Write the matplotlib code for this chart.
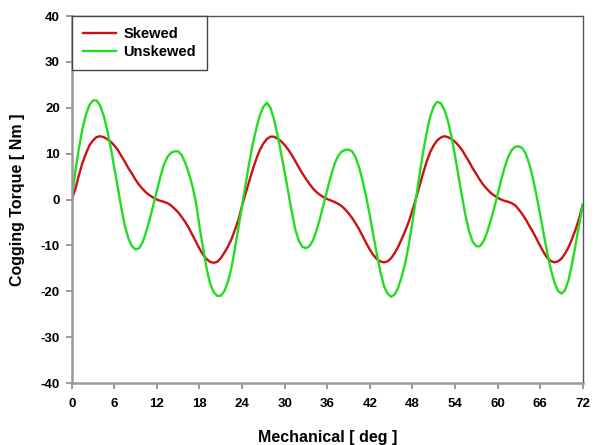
import numpy as np
import matplotlib
matplotlib.use('Agg')
import matplotlib.pyplot as plt

# mechanical angle (deg), one sample every half degree
angle = np.arange(0, 72.5, 0.5)

# cogging torque [Nm], one row per 6 deg
skewed = [
    0.0, 2.2, 5.2, 7.9, 10.0, 11.8, 12.9, 13.6, 13.8, 13.6, 13.2, 12.6,
    11.8, 10.8, 9.5, 8.2, 6.8, 5.6, 4.3, 3.2, 2.3, 1.5, 0.9, 0.4,
    0.0, -0.3, -0.5, -0.8, -1.3, -2.0, -2.8, -3.8, -4.9, -6.2, -7.7, -9.2,
    -10.7, -12.0, -13.0, -13.6, -13.8, -13.6, -12.8, -11.6, -10.3, -8.7, -6.6, -4.4,
    -1.4, 1.3, 3.9, 6.5, 8.8, 10.8, 12.2, 13.2, 13.7, 13.7, 13.3, 12.7,
    11.9, 10.9, 9.7, 8.4, 7.0, 5.7, 4.5, 3.4, 2.4, 1.6, 1.0, 0.5,
    0.1, -0.2, -0.5, -0.9, -1.4, -2.1, -3.0, -4.0, -5.2, -6.5, -8.0, -9.5,
    -10.9, -12.1, -13.0, -13.5, -13.7, -13.5, -12.8, -11.7, -10.3, -8.6, -6.8, -4.8,
    -2.4, 0.2, 2.9, 5.7, 8.2, 10.3, 11.8, 12.9, 13.5, 13.8, 13.6, 13.2,
    12.6, 11.8, 10.8, 9.5, 8.2, 6.8, 5.6, 4.3, 3.2, 2.3, 1.5, 0.9,
    0.4, 0.0, -0.3, -0.5, -0.8, -1.3, -2.2, -3.2, -4.4, -5.8, -7.1, -8.6,
    -10.1, -11.5, -12.7, -13.4, -13.7, -13.5, -12.9, -11.8, -10.4, -8.6, -6.5, -4.1,
    -1.2,
]
unskewed = [
    0.0, 6.0, 11.0, 15.3, 18.5, 20.6, 21.6, 21.6, 20.5, 18.3, 15.2, 11.3,
    7.0, 2.6, -1.9, -5.8, -8.5, -10.2, -10.9, -10.6, -9.3, -7.0, -4.3, -1.2,
    2.0, 5.0, 7.6, 9.3, 10.2, 10.5, 10.5, 9.7, 8.0, 5.8, 3.0, -0.6,
    -5.8, -10.5, -15.0, -18.3, -20.2, -21.0, -21.0, -20.0, -18.0, -15.0, -10.7, -6.0,
    -1.4, 3.3, 7.9, 12.0, 15.4, 18.3, 20.2, 21.1, 20.0, 17.5, 14.0, 10.1,
    6.0, 1.7, -2.6, -6.5, -9.0, -10.3, -10.6, -10.2, -8.9, -6.7, -4.0, -1.0,
    2.1, 5.0, 7.6, 9.4, 10.4, 10.8, 10.9, 10.5, 9.2, 7.0, 4.0, 0.5,
    -3.4, -7.8, -12.0, -15.8, -18.9, -20.5, -21.2, -20.7, -19.2, -16.8, -13.8, -9.8,
    -5.0, 0.2, 5.3, 10.2, 14.5, 18.0, 20.3, 21.3, 21.0, 19.6, 17.2, 13.8,
    9.6, 5.1, 0.6, -3.6, -7.0, -9.2, -10.2, -10.2, -9.2, -7.3, -4.8, -2.0,
    1.0, 4.2, 7.0, 9.3, 10.8, 11.5, 11.6, 11.2, 9.9, 7.6, 4.5, 0.8,
    -3.2, -7.5, -11.6, -15.2, -18.0, -19.9, -20.5, -19.8, -17.6, -14.0, -9.8, -5.4,
    -1.1,
]

plt.rcParams['font.family'] = ['Liberation Sans', 'DejaVu Sans']
plt.rcParams['font.weight'] = 'bold'
plt.rcParams['axes.unicode_minus'] = False

fig = plt.figure(figsize=(5.94, 4.45), dpi=100)
ax = fig.add_axes([0.1207, 0.1393, 0.8603, 0.8247])

ax.plot(angle, skewed, color='#cc1111', lw=1.7, label='Skewed')
ax.plot(angle, unskewed, color='#22dd22', lw=1.7, label='Unskewed')

ax.set_xlim(0, 72)
ax.set_ylim(-40, 40)
ax.set_xticks(np.arange(0, 73, 6))
ax.set_yticks(np.arange(-40, 41, 10))
ax.tick_params(direction='out', length=4.5, width=1.2, color='#888888',
               labelsize=9.5, pad=4)
ax.tick_params(axis='x', pad=6.5)
for lbl in ax.get_xticklabels() + ax.get_yticklabels():
    lbl.set_fontweight('bold')

for side in ['left', 'bottom']:
    ax.spines[side].set_color('#999999')
    ax.spines[side].set_linewidth(1.8)
for side in ['top', 'right']:
    ax.spines[side].set_color('#555555')
    ax.spines[side].set_linewidth(1.0)

ax.set_xlabel('Mechanical [ deg ]', fontsize=11.5, fontweight='bold', labelpad=14)
ax.set_ylabel('Cogging Torque [ Nm ]', fontsize=11.5, fontweight='bold', labelpad=11)

leg = ax.legend(loc='upper left', bbox_to_anchor=(0, 1), borderaxespad=0,
                fancybox=False, framealpha=1, edgecolor='#444444',
                prop={'size': 10.5, 'weight': 'bold'}, handlelength=2.3,
                labelspacing=0.3, borderpad=0.75, handletextpad=0.5)
leg.get_frame().set_linewidth(1.0)

fig.savefig('out.png', dpi=100)
